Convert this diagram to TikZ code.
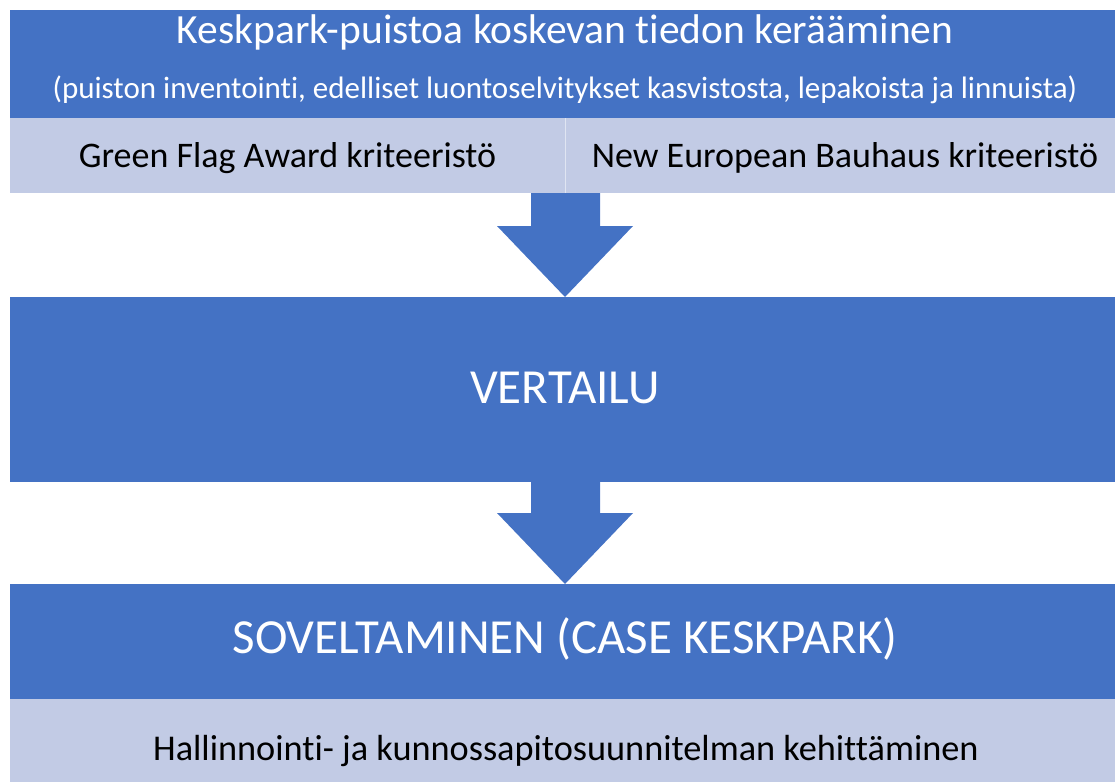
\documentclass[tikz,border=0pt]{standalone}
\usepackage{fontspec}
\setmainfont{Carlito}[Ligatures=NoCommon]
\usetikzlibrary{calc}
\definecolor{keskblue}{HTML}{4472C4}
\definecolor{keskpale}{HTML}{C2CBE5}

\begin{document}
\begin{tikzpicture}[x=1pt, y=-1pt,
  every node/.style = {inner sep=0pt, outer sep=0pt},
  darkbox/.style = {fill=keskblue, anchor=north west, minimum width=1105pt},
  palebox/.style = {fill=keskpale, anchor=north west},
  blockarrow/.style = {fill=keskblue},
  whitetext/.style = {text=white, anchor=base},
  blacktext/.style = {text=black, anchor=base},
  ]
  \useasboundingbox (0,0) rectangle (1115,782);
  % boxes
  \node [darkbox, minimum height=108pt] (keruu) at (10,10) {};
  \node [palebox, minimum width=555pt, minimum height=75pt] (gfa) at (10,118) {};
  \node [palebox, minimum width=550pt, minimum height=75pt] (neb) at (565,118) {};
  \draw [white, opacity=0.5, line width=1pt] (gfa.north east) -- (gfa.south east);
  \node [darkbox, minimum height=185pt] (vertailu) at (10,297) {};
  \node [darkbox, minimum height=115pt] (soveltaminen) at (10,584) {};
  \node [palebox, minimum width=1105pt, minimum height=83pt] (hallinnointi) at (10,699) {};
  % texts
  \node [whitetext, font=\fontsize{41.5}{50}\selectfont] (keruuotsikko) at (565,43)
    {Keskpark-puistoa koskevan tiedon kerääminen};
  \node [whitetext, font=\fontsize{31}{37}\selectfont] (keruulahteet) at (565,98)
    {(puiston inventointi, edelliset luontoselvitykset kasvistosta, lepakoista ja linnuista)};
  \node [blacktext, font=\fontsize{36}{43}\selectfont] (gfateksti) at (287.5,167)
    {Green Flag Award kriteeristö};
  \node [blacktext, font=\fontsize{36}{43}\selectfont] (nebteksti) at (845,167)
    {New European Bauhaus kriteeristö};
  \node [whitetext, font=\fontsize{49}{58}\selectfont] (vertailuteksti) at (565,403)
    {VERTAILU};
  \node [whitetext, font=\fontsize{49}{58}\selectfont] (soveltaminenteksti) at (565,653)
    {SOVELTAMINEN (CASE KESKPARK)};
  \node [blacktext, font=\fontsize{36.3}{43}\selectfont] (hallinnointiteksti) at (566,760)
    {Hallinnointi- ja kunnossapitosuunnitelman kehittäminen};
  % block arrows
  \fill [blockarrow] ($(gfa.south east)+(-34,0)$) -- ($(gfa.south east)+(35,0)$)
    -- ++(0,33) -- ++(33,0) -- ($(vertailu.north west)+(555,0)$)
    -- ($(gfa.south east)+(-68,33)$) -- ($(gfa.south east)+(-34,33)$) -- cycle;
  \fill [blockarrow] ($(vertailu.south west)+(521,0)$) -- ($(vertailu.south west)+(590,0)$)
    -- ++(0,31) -- ++(33,0) -- ($(soveltaminen.north west)+(555,0)$)
    -- ($(vertailu.south west)+(487,31)$) -- ($(vertailu.south west)+(521,31)$) -- cycle;
\end{tikzpicture}
\end{document}
